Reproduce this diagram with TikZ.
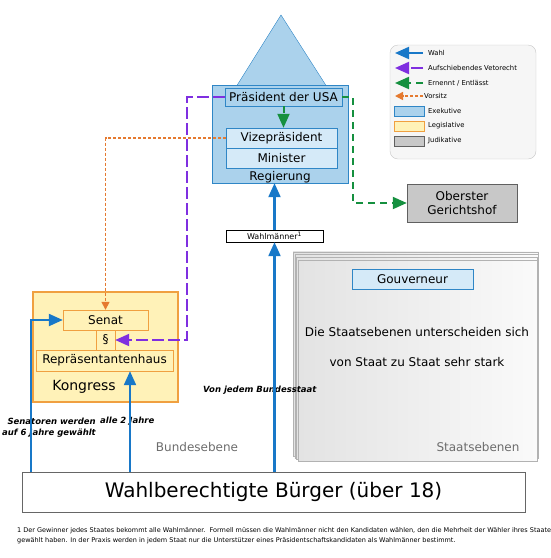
\documentclass[tikz,border=0pt]{standalone}
\usepackage{fontspec}
\setmainfont{DejaVu Sans}
\usepackage{xcolor}
\definecolor{exeblue}{RGB}{171,210,236}
\definecolor{exeline}{RGB}{47,134,198}
\definecolor{paleblue}{RGB}{213,234,248}
\definecolor{legyellow}{RGB}{255,242,184}
\definecolor{legorange}{RGB}{240,160,64}
\definecolor{judgray}{RGB}{200,200,200}
\definecolor{wahlblue}{RGB}{24,120,200}
\definecolor{vetopurple}{RGB}{127,47,224}
\definecolor{ernenntgreen}{RGB}{21,144,63}
\definecolor{vorsitzorange}{RGB}{229,122,48}
\usepackage{tikz}
\usetikzlibrary{
  arrows.meta,
  positioning
}

\begin{document}
\begin{tikzpicture}[x=1pt, y=-1pt,
  exe/.style={rectangle, draw=exeline, fill=exeblue, inner sep=0pt, font=\fontsize{12}{14}\selectfont},
  pale/.style={rectangle, draw=exeline, fill=paleblue, inner sep=0pt, font=\fontsize{12}{14}\selectfont},
  legis/.style={rectangle, draw=legorange, fill=legyellow, inner sep=0pt, font=\fontsize{12}{14}\selectfont},
  jud/.style={rectangle, draw=gray!75!black, fill=judgray, inner sep=0pt, align=center, font=\fontsize{12}{14}\selectfont},
  label/.style={inner sep=0pt, font=\fontsize{12}{14}\selectfont},
  note/.style={inner sep=0pt, align=right, font=\fontsize{8.5}{11}\selectfont\bfseries\itshape},
  legtext/.style={inner sep=0pt, anchor=west, font=\fontsize{6.8}{8}\selectfont},
  wahl/.style={-{Triangle[length=14pt, width=12pt]}, line width=2.2pt, wahlblue},
  veto/.style={-{Triangle[length=14pt, width=12pt]}, line width=2pt, vetopurple, dash pattern=on 12pt off 4pt},
  ernennt/.style={-{Triangle[length=14pt, width=12pt]}, line width=2pt, ernenntgreen, dash pattern=on 7pt off 5pt},
  vorsitz/.style={-{Triangle[length=8pt, width=8pt]}, line width=1.5pt, vorsitzorange, dash pattern=on 3pt off 2pt}
]
  \useasboundingbox (0,0) rectangle (550,558);

  \filldraw[exe] (236,87) -- (281,15) -- (327,87) -- cycle;
  \node[exe, minimum width=136pt, minimum height=98pt] (reg) at (280,134) {};
  \node[label, anchor=base] (regtext) at (280,180) {Regierung};
  \node[exe, minimum width=117pt, minimum height=18pt] (praes) at (283.5,97) {Präsident der USA};
  \node[pale, minimum width=111pt, minimum height=20pt] (vize) at (281.5,138) {Vizepräsident};
  \node[pale, minimum width=111pt, minimum height=20pt, below=0pt of vize] (minister) {Minister};

  \node[jud, minimum width=110pt, minimum height=38pt] (oberst) at (462,203) {Oberster\\Gerichtshof};
  \node[draw, fill=white, inner sep=0pt, minimum width=97pt, minimum height=12pt, font=\fontsize{8}{8}\selectfont] (wm) at (274.5,236) {Wahlmänner\textsuperscript{1}};

  \foreach \k in {3,2,1}
    \shade[draw=gray!60, left color=gray!22, right color=gray!4] (298-1.6*\k,260-2.7*\k) rectangle (537+0.5*\k,461-1.5*\k);
  \node[rectangle, draw=gray!60, left color=gray!22, right color=gray!4, minimum width=239pt, minimum height=201pt] (staat) at (417.5,360.5) {};
  \node[pale, minimum width=121pt, minimum height=20pt] (gouv) at (412.5,279) {Gouverneur};
  \node[label] (unterschied) at (417,332) {Die Staatsebenen unterscheiden sich};
  \node[label] (vonstaat) at (417,362) {von Staat zu Staat sehr stark};
  \node[label, text=gray!85!black] (staatlabel) at (478,447) {Staatsebenen};

  \node[legis, line width=2pt, minimum width=145pt, minimum height=110pt] (kong) at (105.5,347) {};
  \node[label, font=\fontsize{14}{16}\selectfont] (kongtext) at (84,387) {Kongress};
  \node[legis, minimum width=85pt, minimum height=20pt] (senat) at (105.5,320) {Senat};
  \node[legis, minimum width=19pt, minimum height=20pt] (para) at (105.5,340) {§};
  \node[legis, minimum width=137pt, minimum height=21pt] (haus) at (104.5,360.5) {Repräsentantenhaus};

  \node[label, text=gray!85!black] (bundlabel) at (197,447) {Bundesebene};
  \node[note, anchor=north east] (sennote) at (96,418) {Senatoren werden\\auf 6 Jahre gewählt};
  \node[note, anchor=west] (hausnote) at (100,421) {alle 2 Jahre};
  \node[note, anchor=west] (bundnote) at (203,390) {Von jedem Bundesstaat};

  \node[draw=gray!80!black, fill=white, minimum width=503pt, minimum height=40pt, font=\fontsize{20}{24}\selectfont] (buerger) at (273.5,492) {Wahlberechtigte Bürger (über 18)};
  \coordinate (senfoot) at (31,472);
  \coordinate (hausfoot) at (130,472);

  \draw[wahl] (wm.south |- buerger.north) -- (wm.south);
  \draw[wahl] (wm.north) -- (wm.north |- reg.south);
  \draw[wahl] (senfoot) |- (senat.west);
  \draw[wahl] (hausfoot) -- (hausfoot |- haus.south);
  \draw[veto] (praes.west) -- ++(-38,0) |- (para.east);
  \draw[vorsitz] (vize.west) -| (senat.north);
  \draw[ernennt] (praes.south) -- (praes.south |- vize.north);
  \draw[ernennt] (praes.east) -- ++(11,0) |- (oberst.west);

  \node[draw=gray!45, fill=gray!7, rounded corners=8pt, minimum width=146pt, minimum height=114pt] (legende) at (463,102) {};
  \coordinate (wahlA) at (423,53);  \coordinate (wahlB) at (395,53);
  \coordinate (vetoA) at (423,68);  \coordinate (vetoB) at (395,68);
  \coordinate (ernA) at (423,83);   \coordinate (ernB) at (395,83);
  \coordinate (vorA) at (423,96);   \coordinate (vorB) at (395,96);
  \draw[wahl, line width=2pt] (wahlA) -- (wahlB);
  \draw[veto] (vetoA) -- (vetoB);
  \draw[ernennt] (ernA) -- (ernB);
  \draw[vorsitz] (vorA) -- (vorB);
  \node[legtext] (lwahl) at (428,53) {Wahl};
  \node[legtext] (lveto) at (428,68) {Aufschiebendes Vetorecht};
  \node[legtext] (lern) at (428,83) {Ernennt / Entlässt};
  \node[legtext] (lvor) at (424,96) {Vorsitz};
  \node[exe, minimum width=30pt, minimum height=10pt] (sexe) at (409,111) {};
  \node[legis, minimum width=30pt, minimum height=10pt] (sleg) at (409,126) {};
  \node[jud, minimum width=30pt, minimum height=10pt] (sjud) at (409,141) {};
  \node[legtext] (lexe) at (428,111) {Exekutive};
  \node[legtext] (lleg) at (428,126) {Legislative};
  \node[legtext] (ljud) at (428,141) {Judikative};

  \node[inner sep=0pt, anchor=north west, align=left, font=\fontsize{6.5}{10.5}\selectfont] (fussnote) at (17,527) {1 Der Gewinner jedes Staates bekommt alle Wahlmänner.\ \ Formell müssen die Wahlmänner nicht den Kandidaten wählen, den die Mehrheit der Wähler ihres Staates\\gewählt haben. In der Praxis werden in jedem Staat nur die Unterstützer eines Präsidentschaftskandidaten als Wahlmänner bestimmt.};
\end{tikzpicture}
\end{document}
